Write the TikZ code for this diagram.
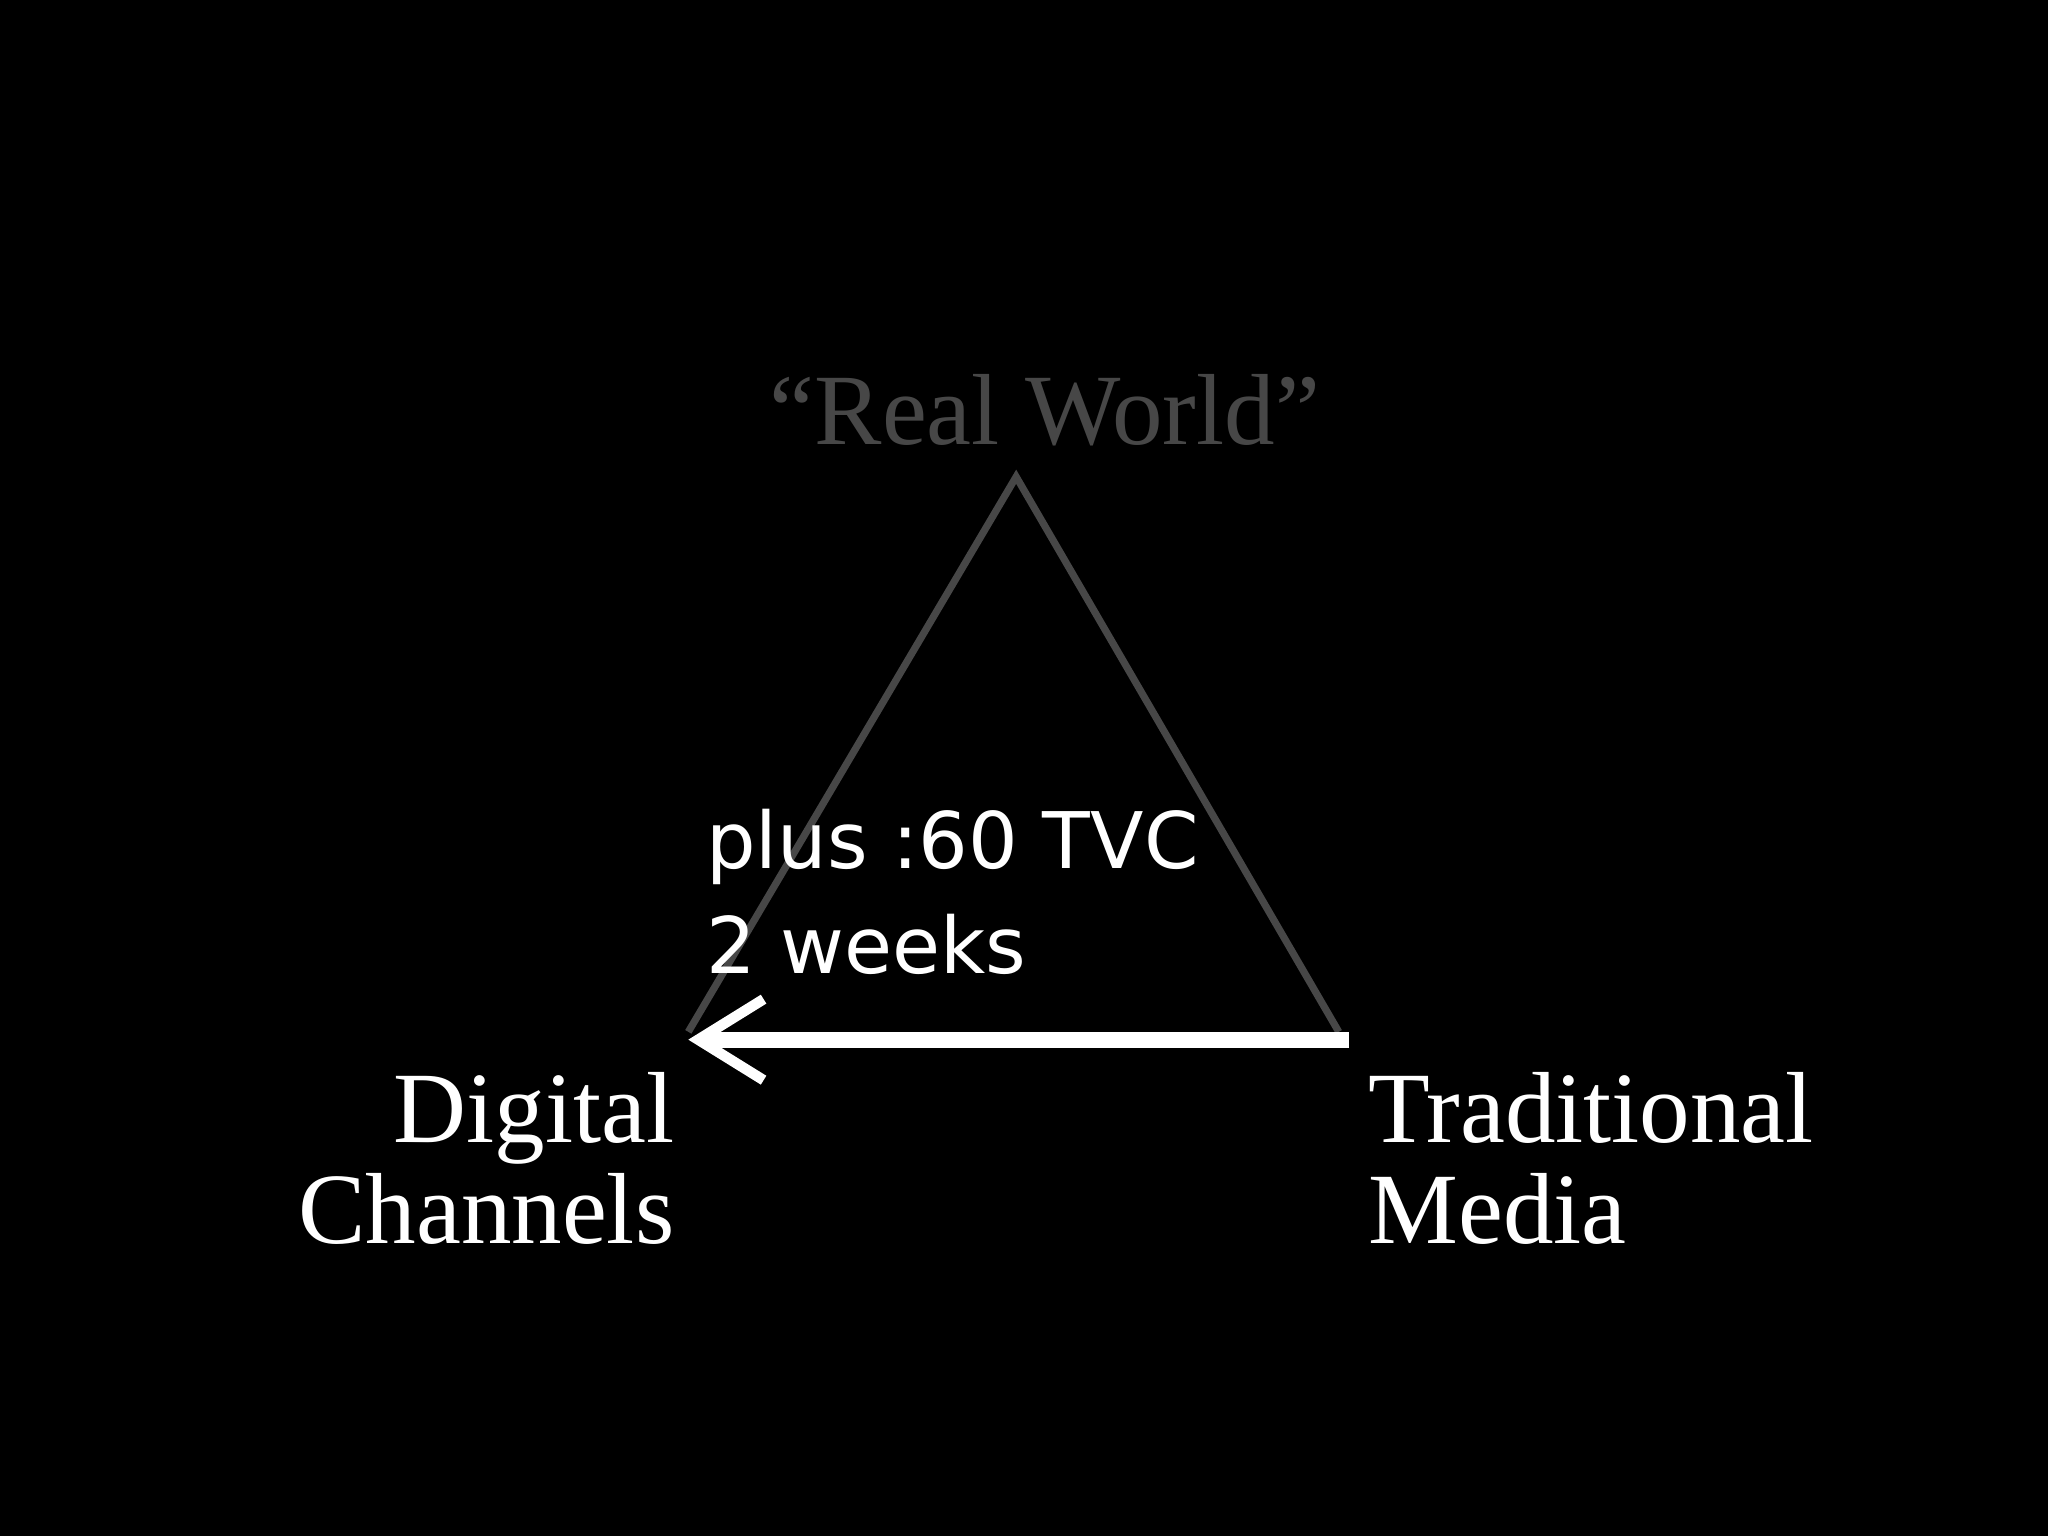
\documentclass[tikz,border=0pt]{standalone}
\usepackage{fontspec}
\setmainfont{Liberation Serif}
\newfontfamily\sansf{DejaVu Sans}
\usetikzlibrary{arrows.meta}
\begin{document}
\begin{tikzpicture}[x=0.01cm,y=-0.01cm,
  serif/.style={font=\fontsize{22}{0.77cm}\selectfont, inner sep=0pt},
  sanst/.style={font=\sansf\fontsize{17}{0.8cm}\selectfont, inner sep=0pt, text=white, align=left},
  tri/.style={draw=black!72!white, line width=0.055cm, line join=miter}]
\fill[black] (0,0) rectangle (1568,1176);
\useasboundingbox (0,0) rectangle (1568,1176);
\coordinate (A) at (778,365);
\coordinate (L) at (527,790);
\coordinate (R) at (1025,790);
\draw[tri] (L) -- (A) -- (R);
\coordinate (s) at (1033,796);
\coordinate (e) at (527,796);
\draw[white, line width=0.12cm, -{Straight Barb[length=0.5cm,width=0.62cm,line width=0.08cm]}] (s) -- (e);
\node[serif, text=black!72!white, anchor=base] (rw) at (800,340) {“Real World”};
\node[serif, text=white, anchor=base east, align=right] (dg) at (517,952) {Digital\\Channels};
\node[serif, text=white, anchor=base west, align=left] (tm) at (1047,952) {Traditional\\Media};
\node[sanst, anchor=base west] (pl) at (540,745) {plus :60 TVC\\2 weeks};
\end{tikzpicture}
\end{document}
